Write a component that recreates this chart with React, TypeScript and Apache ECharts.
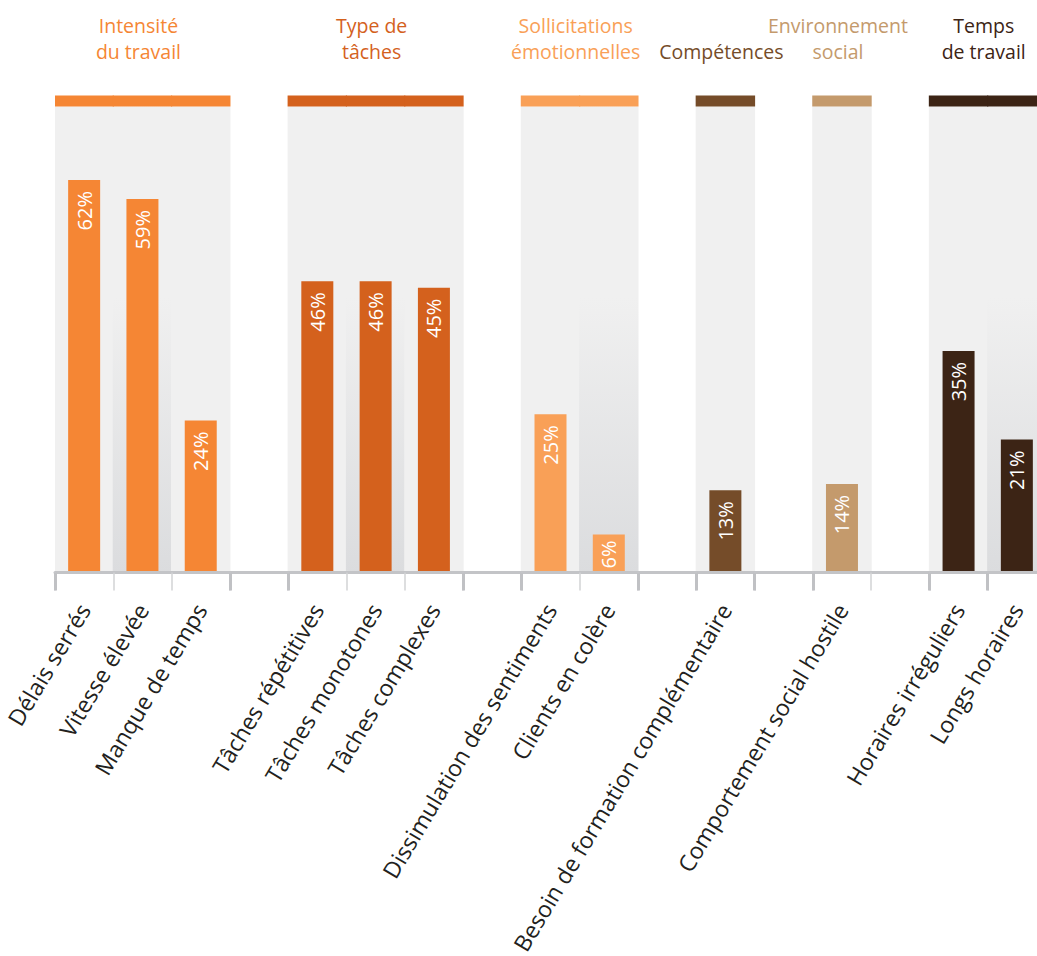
import React, { useEffect, useRef } from "react";
import * as echarts from "echarts";

// ---- Data ----
const categories = [
  "Délais serrés",
  "Vitesse élevée",
  "Manque de temps",
  " ",
  "Tâches répétitives",
  "Tâches monotones",
  "Tâches complexes",
  "  ",
  "Dissimulation des sentiments",
  "Clients en colère",
  "   ",
  "Besoin de formation complémentaire",
  "    ",
  "Comportement social hostile",
  "     ",
  "Horaires irréguliers",
  "Longs horaires",
];
const values: (number | null)[] = [62, 59, 24, null, 46, 46, 45, null, 25, 6, null, 13, null, 14, null, 35, 21];

const groupTitles = [
  "Intensité\ndu travail",
  "Type de\ntâches",
  "Sollicitations\némotionnelles",
  "Compétences",
  "Environnement\nsocial",
  "Temps\nde travail",
];
const groupStart = [0, 4, 8, 11, 13, 15];
const groupEnd = [2, 6, 9, 11, 13, 16];
const groupColors = ["#f58634", "#d4611d", "#f9a057", "#754c29", "#c49a6c", "#3c2415"];

// ---- Styling constants ----
const shadedSlots = [1, 5, 9, 16];
const thickTicks = [0, 3, 4, 7, 8, 10, 11, 12, 13, 15, 16];
const PANEL_TOP = 73.6;
const HEADER_H = 1.75;
const FONT = "'Open Sans', 'Noto Sans', sans-serif";

function groupOf(i: number): number {
  for (let g = 0; g < groupStart.length; g++) {
    if (i >= groupStart[g] && i <= groupEnd[g]) return g;
  }
  return -1;
}

export default function App() {
  const ref = useRef<HTMLDivElement>(null);
  useEffect(() => {
    if (!ref.current) return;
    const chart = echarts.init(ref.current, null, { renderer: "svg" });

    const makeGrad = () =>
      new echarts.graphic.LinearGradient(0, 0, 0, 1, [
        { offset: 0, color: "#f0f0f0" },
        { offset: 0.41, color: "#f0f0f0" },
        { offset: 1, color: "#dbdcde" },
      ]);

    const bgData = categories.map((_, i) => {
      const g = groupOf(i);
      if (g < 0) return "-";
      const c = shadedSlots.includes(i) ? makeGrad() : "#f0f0f0";
      return { value: PANEL_TOP, itemStyle: { color: c } };
    });
    const headerData = categories.map((_, i) => {
      const g = groupOf(i);
      if (g < 0) return "-";
      return { value: HEADER_H, itemStyle: { color: groupColors[g] } };
    });
    const barData = values.map((v, i) => {
      if (v == null) return "-";
      const item: any = { value: v, itemStyle: { color: groupColors[groupOf(i)] } };
      if (v < 10) item.label = { distance: 6 };
      return item;
    });

    const option: any = {
      animation: false,
      grid: {
        left: 55,
        right: -9,
        top: 66.1,
        bottom: 383.5,
        containLabel: false,
        outerBoundsMode: "none",
      },
      xAxis: [
        {
          type: "category",
          data: categories,
          position: "bottom",
          z: 10,
          axisLine: { show: true, lineStyle: { color: "#c3c4c7", width: 3 } },
          axisTick: {
            show: true,
            interval: 0,
            length: 18,
            lineStyle: { color: "#d2d3d5", width: 1.5 },
          },
          axisLabel: {
            interval: 0,
            rotate: 59,
            margin: 33,
            fontSize: 23,
            fontFamily: FONT,
            color: "#231f20",
          },
          splitLine: { show: false },
        },
        {
          type: "category",
          data: categories,
          position: "bottom",
          offset: 0,
          z: 11,
          axisLine: { show: false },
          axisTick: {
            show: true,
            interval: (i: number) => thickTicks.includes(i),
            length: 18,
            lineStyle: { color: "#c0c1c4", width: 3 },
          },
          axisLabel: { show: false },
          splitLine: { show: false },
        },
      ],
      yAxis: { type: "value", min: 0, max: 80, show: false },
      series: [
        {
          type: "bar",
          xAxisIndex: 1,
          stack: "panel",
          barWidth: "102%",
          barCategoryGap: 0,
          data: bgData,
          z: 1,
          silent: true,
        },
        {
          type: "bar",
          xAxisIndex: 1,
          stack: "panel",
          barWidth: "102%",
          data: headerData,
          z: 1,
          silent: true,
        },
        {
          type: "bar",
          xAxisIndex: 0,
          barWidth: 32,
          data: barData,
          z: 3,
          label: {
            show: true,
            position: "insideTop",
            distance: 11,
            rotate: 90,
            align: "right",
            verticalAlign: "middle",
            formatter: "{c}%",
            color: "#ffffff",
            fontSize: 20,
            fontFamily: FONT,
          },
        },
      ],
    };
    chart.setOption(option);

    const graphics = groupTitles.map((t, g) => {
      const x0 = chart.convertToPixel({ xAxisIndex: 0 }, groupStart[g]) as number;
      const x1 = chart.convertToPixel({ xAxisIndex: 0 }, groupEnd[g]) as number;
      return {
        type: "text",
        x: (x0 + x1) / 2 - 4,
        y: 64,
        style: {
          text: t,
          align: "center",
          verticalAlign: "bottom",
          fontSize: 19.5,
          lineHeight: 26,
          fontFamily: FONT,
          fill: groupColors[g],
        },
      };
    });
    chart.setOption({ graphic: graphics });

    return () => chart.dispose();
  }, []);
  return (
    <div
      ref={ref}
      style={{ position: "absolute", left: 0, top: 0, width: 1037, height: 956 }}
    />
  );
}
